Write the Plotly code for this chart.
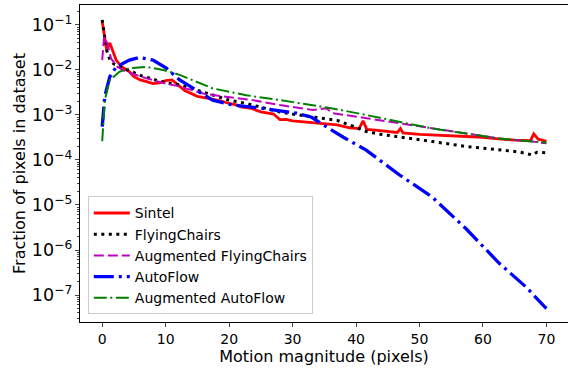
import plotly.graph_objects as go

# ---- data ----
sintel_x = [0, 0.3, 0.7, 1.2, 1.6, 2.2, 3, 4.3, 5, 6, 7, 8, 9, 10, 11, 12, 13, 15, 17, 18.5, 20, 21, 22, 23.5,
            25, 26, 27, 28, 29, 30, 31, 33, 34, 36, 37, 39, 40.5, 41.1, 41.7, 43, 45, 46.5, 47, 47.4, 50, 52,
            55, 58, 60, 62, 65, 67.5, 68, 68.7, 70]
sintel_y = [0.118, 0.063, 0.028, 0.040, 0.028, 0.0166, 0.012, 0.0091, 0.0071, 0.0060, 0.0055, 0.0050,
            0.0052, 0.0058, 0.0060, 0.0045, 0.0035, 0.0026, 0.0023, 0.0021, 0.0018, 0.0017, 0.0015, 0.0014,
            0.00117, 0.00110, 0.00105, 0.00079, 0.00080, 0.00074, 0.00072, 0.00069, 0.00066, 0.00063, 0.00060,
            0.00052, 0.00050, 0.00074, 0.00048, 0.00046, 0.00043, 0.00041, 0.00050, 0.00040, 0.00037, 0.00036,
            0.00034, 0.00033, 0.00032, 0.00030, 0.000275, 0.00027, 0.00038, 0.00029, 0.00026]

chairs_x = [0, 0.3, 0.7, 1.3, 2, 4, 6, 8.4, 10, 12.2, 14.8, 17, 20, 22.7, 25, 28, 30, 33.2, 35.3, 37, 39,
            41.6, 44, 46.8, 52, 57.3, 62.6, 65.7, 67.8, 68.5, 70]
chairs_y = [0.13, 0.060, 0.0275, 0.0155, 0.0132, 0.010, 0.0076, 0.0060, 0.0052, 0.0047, 0.0036, 0.0028,
            0.00214, 0.0018, 0.0015, 0.00117, 0.00105, 0.00091, 0.00085, 0.00076, 0.00060, 0.00043, 0.00037,
            0.00033, 0.000257, 0.00020, 0.000166, 0.000151, 0.000129, 0.000148, 0.000145]

aug_chairs_x = [0, 0.3, 0.8, 1.4, 2.4, 4, 7, 10, 12.2, 15.9, 19, 23.7, 28, 33.2, 35.3, 36.3, 41.6, 46.8,
                52, 57.3, 62.6, 67.8, 70]
aug_chairs_y = [0.0166, 0.055, 0.039, 0.018, 0.0117, 0.0089, 0.0065, 0.0050, 0.0043, 0.0030, 0.0026,
                0.00214, 0.00166, 0.00129, 0.00141, 0.0011, 0.00085, 0.00066, 0.00050, 0.00039, 0.00030,
                0.000257, 0.000234]

autoflow_x = [0, 0.4, 1.2, 2.2, 4.3, 5.9, 8, 10.1, 12.2, 14.3, 17.4, 20.6, 25.3, 30.6, 33, 35.3, 38,
              41.6, 46.8, 52, 57.3, 62.6, 66.8, 69.7, 70]
autoflow_y = [0.00055, 0.0026, 0.0071, 0.0117, 0.0166, 0.019, 0.0166, 0.011, 0.0060, 0.0039, 0.00214,
              0.00166, 0.0014, 0.0011, 0.00089, 0.00055, 0.00032, 0.000166, 4.7e-5, 1.5e-5, 3.0e-6,
              5.0e-7, 1.5e-7, 5.5e-8, 5.0e-8]

aug_autoflow_x = [0, 0.4, 1.2, 2.7, 4.3, 7, 9.6, 12.2, 17.4, 22.7, 28, 33.2, 36.3, 41.6, 46.8, 52, 57.3,
                  62.6, 67.8, 70]
aug_autoflow_y = [0.00026, 0.00214, 0.0060, 0.0091, 0.011, 0.0117, 0.010, 0.0078, 0.0039, 0.00275,
                  0.00214, 0.00166, 0.0014, 0.0010, 0.00070, 0.00050, 0.00039, 0.00030, 0.000257, 0.000245]

x_ticks = [0, 10, 20, 30, 40, 50, 60, 70]

FONT = "DejaVu Sans"

fig = go.Figure()
fig.add_trace(go.Scatter(x=sintel_x, y=sintel_y, mode="lines", name="Sintel",
                         line=dict(color="#ff0000", width=2.8)))
fig.add_trace(go.Scatter(x=chairs_x, y=chairs_y, mode="lines", name="FlyingChairs",
                         line=dict(color="#000000", width=3, dash="3px,4.5px")))
fig.add_trace(go.Scatter(x=aug_chairs_x, y=aug_chairs_y, mode="lines", name="Augmented FlyingChairs",
                         line=dict(color="#bf00bf", width=2, dash="10px,4px")))
fig.add_trace(go.Scatter(x=autoflow_x, y=autoflow_y, mode="lines", name="AutoFlow",
                         line=dict(color="#0000ff", width=3.3, dash="20px,5px,3px,5px")))
fig.add_trace(go.Scatter(x=aug_autoflow_x, y=aug_autoflow_y, mode="lines", name="Augmented AutoFlow",
                         line=dict(color="#008000", width=2, dash="13px,3.5px,2px,3.5px")))

fig.update_layout(
    width=568, height=370,
    margin=dict(l=80, r=0, t=5, b=48),
    paper_bgcolor="white", plot_bgcolor="white",
    font=dict(family=FONT, size=14, color="black"),
    showlegend=True,
    legend=dict(x=0.016, y=0.024, xanchor="left", yanchor="bottom", itemwidth=36,
                bgcolor="rgba(255,255,255,0.8)", bordercolor="#cccccc", borderwidth=1,
                font=dict(family=FONT, size=14)),
)
fig.update_xaxes(
    automargin=False,
    range=[-3.5, 73.4], tickvals=x_ticks, ticks="outside", ticklen=4, tickwidth=1,
    showline=True, linecolor="black", linewidth=1, mirror=True, showgrid=False, zeroline=False,
    title=dict(text="Motion magnitude (pixels)", font=dict(family=FONT, size=16), standoff=0),
    tickfont=dict(family=FONT, size=14),
)
fig.update_yaxes(
    automargin=False,
    type="log", range=[-7.6, -0.556], dtick=1, exponentformat="power",
    ticks="outside", ticklen=4, tickwidth=1,
    minor=dict(ticks="outside", ticklen=2, tickwidth=0.8, dtick="D1", showgrid=False),
    showline=True, linecolor="black", linewidth=1, mirror=False, showgrid=False, zeroline=False,
    title=dict(text="Fraction of pixels in dataset", font=dict(family=FONT, size=16), standoff=2),
    tickfont=dict(family=FONT, size=14),
)

fig.write_html("out.html", config={"displayModeBar": False},
               post_script="document.body.style.margin='0';")
